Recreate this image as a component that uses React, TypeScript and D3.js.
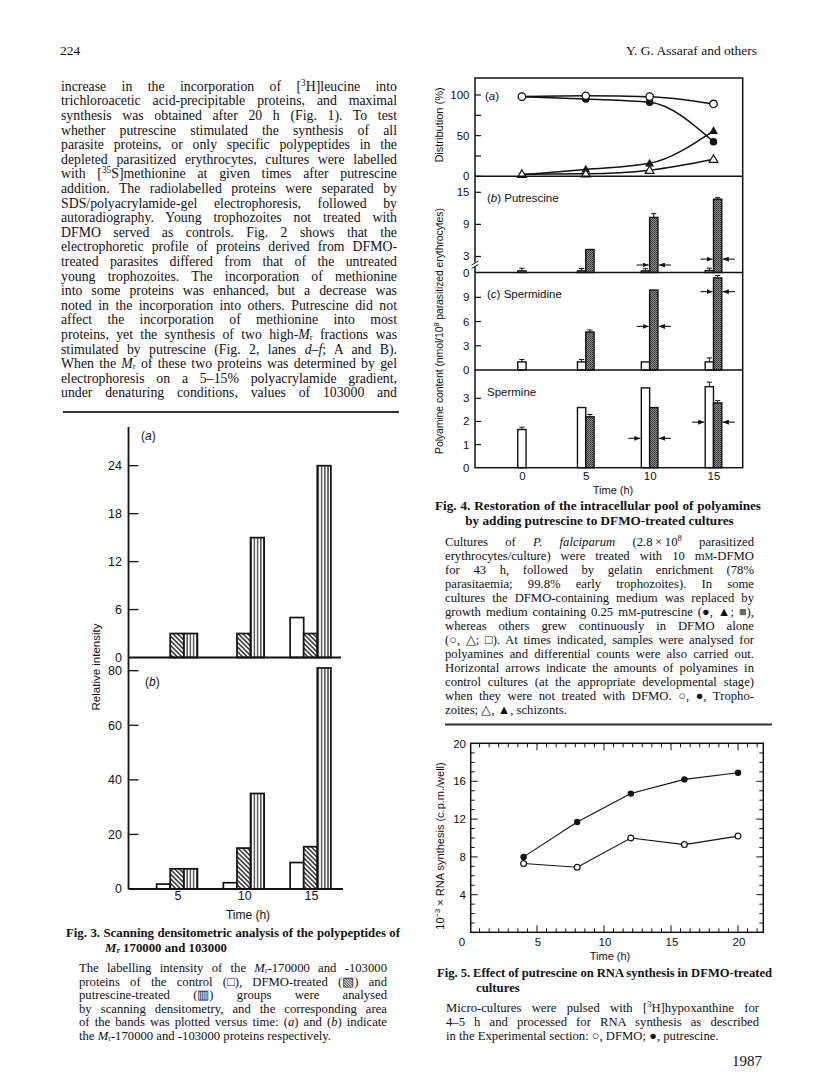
import React, { useEffect, useRef } from "react";
import * as d3 from "d3";

const SANS = "'Liberation Sans', Arial, sans-serif";
const SERIF = "'Liberation Serif', 'Times New Roman', serif";

// Fig. 3 – scanning densitometry, relative intensity
const fig3Times = [5, 10, 15];
const fig3aControl = [0, 0, 5];
const fig3aDfmo = [3, 3, 3];
const fig3aPutrescine = [3, 15, 24];
const fig3bControl = [1.8, 2.3, 9.7];
const fig3bDfmo = [7.4, 15, 15.5];
const fig3bPutrescine = [7.4, 35, 81];
const fig3aTicks = [0, 6, 12, 18, 24];
const fig3bTicks = [0, 20, 40, 60, 80];

// Fig. 4 (a) distribution %
const fig4Times = [0, 5, 10, 15];
const trophoDfmo = [98, 99, 98, 89];
const trophoPut = [98, 95, 91, 42.5];
const schizPut = [2, 8.5, 16, 56];
const schizDfmo = [2.5, 3, 7.5, 21];

// Fig. 4 (b)-(d) polyamine content
const putDfmo = [0.3, 0.3, 0.3, 0.35];
const putDfmoErr = [0.8, 0.75, 0.7, 0.8];
const putPut = [null, 4.3, 10.3, 13.7];
const putPutErr = [null, null, 11.0, 14.0];
const putCtrl = [null, null, 1.4, 2.5];

const spdDfmo = [1.0, 1.0, 1.0, 1.0];
const spdDfmoErr = [1.3, 1.3, null, 1.5];
const spdPut = [null, 4.7, 9.9, 11.4];
const spdPutErr = [null, 4.95, null, 11.7];
const spdCtrl = [null, null, 5.4, 9.7];

const spmDfmo = [1.65, 2.6, 3.45, 3.5];
const spmDfmoErr = [1.75, null, null, 3.7];
const spmPut = [null, 2.2, 2.6, 2.8];
const spmPutErr = [null, 2.3, null, 2.9];
const spmCtrl = [null, null, 1.27, 1.97];

// Fig. 5 RNA synthesis
const fig5Times = [4, 8, 12, 16, 20];
const rnaPutrescine = [8.0, 11.7, 14.7, 16.2, 16.9];
const rnaDfmo = [7.3, 6.9, 10.0, 9.3, 10.2];
const fig5YTicks = [4, 8, 12, 16, 20];
const fig5XTicks = [5, 10, 15, 20];

const Sup = ({ t }: { t: string }) => (
  <tspan baselineShift="super" fontSize="68%">{t}</tspan>
);
const Mr = () => (
  <>
    <tspan fontStyle="italic">M</tspan>
    <tspan baselineShift="-15%" fontSize="62%">r</tspan>
  </>
);
const I = ({ t }: { t: string }) => <tspan fontStyle="italic">{t}</tspan>;
const SC = ({ t }: { t: string }) => <tspan fontSize="75%">{t}</tspan>;

const bodyLines: React.ReactNode[] = [
  <>{"increase in the incorporation of ["}<Sup t="3" />{"H]leucine into"}</>,
  <>trichloroacetic acid-precipitable proteins, and maximal</>,
  <>synthesis was obtained after 20 h (Fig. 1). To test</>,
  <>whether putrescine stimulated the synthesis of all</>,
  <>parasite proteins, or only specific polypeptides in the</>,
  <>depleted parasitized erythrocytes, cultures were labelled</>,
  <>{"with ["}<Sup t="35" />{"S]methionine at given times after putrescine"}</>,
  <>addition. The radiolabelled proteins were separated by</>,
  <>SDS/polyacrylamide-gel electrophoresis, followed by</>,
  <>autoradiography. Young trophozoites not treated with</>,
  <>DFMO served as controls. Fig. 2 shows that the</>,
  <>electrophoretic profile of proteins derived from DFMO-</>,
  <>treated parasites differed from that of the untreated</>,
  <>young trophozoites. The incorporation of methionine</>,
  <>into some proteins was enhanced, but a decrease was</>,
  <>noted in the incorporation into others. Putrescine did not</>,
  <>affect the incorporation of methionine into most</>,
  <>{"proteins, yet the synthesis of two high-"}<Mr />{" fractions was"}</>,
  <>{"stimulated by putrescine (Fig. 2, lanes "}<I t="d–f" />{"; A and B)."}</>,
  <>{"When the "}<Mr />{" of these two proteins was determined by gel"}</>,
  <>electrophoresis on a 5–15% polyacrylamide gradient,</>,
  <>under denaturing conditions, values of 103000 and</>,
];

const fig3Caption: React.ReactNode[] = [
  <>{"The labelling intensity of the "}<Mr />{"-170000 and -103000"}</>,
  <>proteins of the control (□), DFMO-treated (▧) and</>,
  <>putrescine-treated (▥) groups were analysed</>,
  <>by scanning densitometry, and the corresponding area</>,
  <>{"of the bands was plotted versus time: ("}<I t="a" />{") and ("}<I t="b" />{") indicate"}</>,
  <>{"the "}<Mr />{"-170000 and -103000 proteins respectively."}</>,
];

const fig4Caption: React.ReactNode[] = [
  <>{"Cultures of "}<I t="P. falciparum" />{" (2.8\u202F×\u202F10"}<Sup t="8" />{" parasitized"}</>,
  <>{"erythrocytes/culture) were treated with 10 m"}<SC t="M" />{"-DFMO"}</>,
  <>for 43 h, followed by gelatin enrichment (78%</>,
  <>parasitaemia; 99.8% early trophozoites). In some</>,
  <>cultures the DFMO-containing medium was replaced by</>,
  <>{"growth medium containing 0.25 m"}<SC t="M" />{"-putrescine (●, ▲; "}<tspan fill="#666">■</tspan>{"),"}</>,
  <>whereas others grew continuously in DFMO alone</>,
  <>(○, △; □). At times indicated, samples were analysed for</>,
  <>polyamines and differential counts were also carried out.</>,
  <>Horizontal arrows indicate the amounts of polyamines in</>,
  <>control cultures (at the appropriate developmental stage)</>,
  <>when they were not treated with DFMO. ○, ●, Tropho-</>,
  <>zoites; △, ▲, schizonts.</>,
];

const fig5Caption: React.ReactNode[] = [
  <>{"Micro-cultures were pulsed with ["}<Sup t="3" />{"H]hypoxanthine for"}</>,
  <>4–5 h and processed for RNA synthesis as described</>,
  <>in the Experimental section: ○, DFMO; ●, putrescine.</>,
];

function Para({ lines, x, y0, step, w, size, lastFree = true }: any) {
  return (
    <g fontFamily={SERIF} fontSize={size} fill="#111">
      {lines.map((ln: React.ReactNode, i: number) => {
        const just = !(lastFree && i === lines.length - 1);
        return (
          <text key={i} x={x} y={y0 + i * step} data-w={just ? w : undefined}>{ln}</text>
        );
      })}
    </g>
  );
}

export default function App() {
  const ref = useRef<SVGSVGElement>(null);

  // justify lines by word spacing, like the printed page
  useEffect(() => {
    const justify = () => {
      const svg = ref.current;
      if (!svg) return;
      svg.querySelectorAll<SVGTextElement>("text[data-w]").forEach((el) => {
        el.style.wordSpacing = "0px";
        const w = +(el.getAttribute("data-w") || 0);
        const len = el.getComputedTextLength();
        const gaps = (el.textContent || "").trim().split(/ +/).length - 1;
        if (gaps > 0) el.style.wordSpacing = `${(w - len) / gaps}px`;
      });
    };
    justify();
    if ((document as any).fonts) (document as any).fonts.ready.then(justify);
  }, []);

  // ---------- Fig. 3 ----------
  const x3 = d3.scaleLinear().domain([5, 15]).range([177, 310.5]);
  const y3a = d3.scaleLinear().domain([0, 24]).range([657.5, 465.7]);
  const y3b = d3.scaleLinear().domain([0, 80]).range([889, 670.7]);
  const bw3 = 13.6;
  const fig3Fills = ["white", "url(#hatch)", "url(#vstripe)"];
  const fig3Panels = [
    { y: y3a, series: [fig3aControl, fig3aDfmo, fig3aPutrescine], ticks: fig3aTicks },
    { y: y3b, series: [fig3bControl, fig3bDfmo, fig3bPutrescine], ticks: fig3bTicks },
  ];
  const ax3 = 128.5;

  // ---------- Fig. 4 ----------
  const x4 = d3.scaleLinear().domain([0, 15]).range([521.9, 713.5]);
  const ya = d3.scaleLinear().domain([0, 100]).range([176.3, 95]);
  const yb = d3.scaleLinear().domain([0, 15]).range([272.5, 192.3]);
  const yc = d3.scaleLinear().domain([0, 9]).range([370, 297.3]);
  const yd = d3.scaleLinear().domain([0, 3]).range([467.7, 398.3]);
  const f4 = { l: 475, r: 742.7, t: 78, b: 467.7 };
  const bw4 = 8.3;
  const line4 = (ys: number[]) =>
    d3.line<number>().x((_, i) => x4(fig4Times[i])).y((v) => ya(v)).curve(d3.curveMonotoneX)(ys) || "";
  const tri = d3.symbol(d3.symbolTriangle, 34)() || "";
  const barPanels = [
    { y: yb, dfmo: putDfmo, dfmoErr: putDfmoErr, put: putPut, putErr: putPutErr, ctrl: putCtrl,
      ticks: [3, 9, 15], labels: [0, 3, 9, 15], title: "Putrescine", tag: "b", ty: 201.5 },
    { y: yc, dfmo: spdDfmo, dfmoErr: spdDfmoErr, put: spdPut, putErr: spdPutErr, ctrl: spdCtrl,
      ticks: [3, 6, 9], labels: [0, 3, 6, 9], title: "Spermidine", tag: "c", ty: 298 },
    { y: yd, dfmo: spmDfmo, dfmoErr: spmDfmoErr, put: spmPut, putErr: spmPutErr, ctrl: spmCtrl,
      ticks: [1, 2, 3], labels: [0, 1, 2, 3], title: "Spermine", tag: "", ty: 395.5 },
  ];

  // ---------- Fig. 5 ----------
  const x5 = d3.scaleLinear().domain([0, 20]).range([470, 738]);
  const y5 = d3.scaleLinear().domain([0, 20]).range([932.5, 743.5]);
  const f5 = { l: 470.7, r: 763.3, t: 743.3, b: 932.3 };
  const line5 = d3.line<number>().x((_, i) => x5(fig5Times[i])).y((v) => y5(v));
  const yMinor5 = d3.range(1, 20);
  const xMinor5 = d3.range(1, 31).map((k) => (k * 5) / 7).filter((v) => x5(v) < f5.r - 2);

  const errBar = (x: number, yTop: number, yErr: number, key: string) => (
    <g key={key} stroke="#111" strokeWidth={1}>
      <line x1={x} x2={x} y1={yTop} y2={yErr} />
      <line x1={x - 2.6} x2={x + 2.6} y1={yErr} y2={yErr} />
    </g>
  );

  return (
    <svg ref={ref} width={816} height={1092} style={{ position: "absolute", left: 0, top: 0, background: "#fff" }}>
      <defs>
        <pattern id="hatch" patternUnits="userSpaceOnUse" width={3.3} height={3.3} patternTransform="rotate(-45)">
          <rect width={3.3} height={3.3} fill="#fff" />
          <line x1={0.8} x2={0.8} y1={0} y2={3.3} stroke="#111" strokeWidth={1.3} />
        </pattern>
        <pattern id="vstripe" patternUnits="userSpaceOnUse" width={3.2} height={4}>
          <rect width={3.2} height={4} fill="#fff" />
          <line x1={1.6} x2={1.6} y1={0} y2={4} stroke="#111" strokeWidth={1.1} />
        </pattern>
        <pattern id="stipple" patternUnits="userSpaceOnUse" width={2} height={2}>
          <rect width={2} height={2} fill="#8a8a8a" />
          <rect width={1} height={1} fill="#333" />
          <rect x={1} y={1} width={1} height={1} fill="#4a4a4a" />
        </pattern>
        <marker id="arrowhead" markerUnits="userSpaceOnUse" markerWidth={6} markerHeight={5}
          refX={6} refY={2.5} orient="auto">
          <path d="M0,0 L6,2.5 L0,5 z" fill="#111" />
        </marker>
      </defs>

      {/* page header */}
      <text x={60} y={55} fontFamily={SERIF} fontSize={13.5} fill="#111">224</text>
      <text x={757} y={55} fontFamily={SERIF} fontSize={13.5} fill="#111" textAnchor="end">Y. G. Assaraf and others</text>

      <Para lines={bodyLines} x={61} y0={90.7} step={14.6} w={336} size={13.8} lastFree={false} />
      <line x1={63} x2={399} y1={412} y2={412} stroke="#333" strokeWidth={2} />

      {/* ================= Fig. 3 ================= */}
      <g fontFamily={SANS} fill="#111">
        {fig3Panels.map((p, pi) => (
          <g key={pi}>
            {p.series.map((vals, k) =>
              vals.map((v, i) =>
                v > 0 ? (
                  <rect key={`${k}-${i}`} x={x3(fig3Times[i]) + (k - 1.5) * bw3} y={p.y(v)}
                    width={bw3} height={p.y(0) - p.y(v)} fill={fig3Fills[k]} stroke="#111" strokeWidth={1.7} />
                ) : null
              )
            )}
            {p.ticks.map((t) => (
              <g key={t}>
                {t > 0 && <line x1={ax3} x2={ax3 + 10} y1={p.y(t)} y2={p.y(t)} stroke="#111" strokeWidth={1.3} />}
                <text x={122} y={p.y(t) + 4.3} fontSize={12.5} textAnchor="end">{t}</text>
              </g>
            ))}
            <line x1={ax3} x2={pi === 0 ? 341 : 343} y1={p.y(0)} y2={p.y(0)} stroke="#111" strokeWidth={1.8} />
          </g>
        ))}
        <line x1={ax3} x2={ax3} y1={427} y2={889} stroke="#111" strokeWidth={1.8} />
        <text x={141} y={440} fontSize={12}>(<tspan fontStyle="italic">a</tspan>)</text>
        <text x={145} y={686} fontSize={12}>(<tspan fontStyle="italic">b</tspan>)</text>
        {fig3Times.map((t) => (
          <text key={t} x={x3(t) + 1} y={899.5} fontSize={12.5} textAnchor="middle">{t}</text>
        ))}
        <text x={248} y={918.5} fontSize={12} textAnchor="middle">Time (h)</text>
        <text transform="translate(100,667) rotate(-90)" fontSize={11.5} textAnchor="middle">Relative intensity</text>
      </g>

      {/* Fig. 3 caption */}
      <text x={66} y={937} fontFamily={SERIF} fontSize={12.8} fontWeight="bold" data-w={334} fill="#111">
        Fig. 3. Scanning densitometric analysis of the polypeptides of
      </text>
      <text x={105} y={952} fontFamily={SERIF} fontSize={12.8} fontWeight="bold" fill="#111">
        <Mr />{" 170000 and 103000"}
      </text>
      <Para lines={fig3Caption} x={79} y0={972} step={13.6} w={308} size={12.7} />

      {/* ================= Fig. 4 ================= */}
      <g fontFamily={SANS} fill="#111">
        {/* panel (a) */}
        {[0, 25, 50, 75, 100].map((t) => (
          <line key={t} x1={f4.l} x2={f4.l + 6} y1={ya(t)} y2={ya(t)} stroke="#111" strokeWidth={1.2} />
        ))}
        {[0, 50, 100].map((t) => (
          <text key={t} x={469.5} y={ya(t) + 4} fontSize={11.5} textAnchor="end">{t}</text>
        ))}
        <text x={485} y={99.5} fontSize={11.5}>(<tspan fontStyle="italic">a</tspan>)</text>
        {[trophoDfmo, trophoPut, schizPut, schizDfmo].map((s, k) => (
          <path key={k} d={line4(s)} fill="none" stroke="#111" strokeWidth={1.5} />
        ))}
        {trophoPut.map((v, i) => (
          <circle key={`fc${i}`} cx={x4(fig4Times[i])} cy={ya(v)} r={3.8} fill="#111" />
        ))}
        {schizPut.map((v, i) => (
          <path key={`ft${i}`} d={tri} transform={`translate(${x4(fig4Times[i])},${ya(v) + 0.6})`} fill="#111" />
        ))}
        {trophoDfmo.map((v, i) => (
          <circle key={`oc${i}`} cx={x4(fig4Times[i])} cy={ya(v)} r={3.7} fill="#fff" stroke="#111" strokeWidth={1.3} />
        ))}
        {schizDfmo.map((v, i) => (
          <path key={`ot${i}`} d={tri} transform={`translate(${x4(fig4Times[i])},${ya(v) + 0.6})`}
            fill="#fff" stroke="#111" strokeWidth={1.2} />
        ))}

        {/* panels (b)-(d) */}
        {barPanels.map((p, pi) => (
          <g key={pi}>
            {fig4Times.map((t, i) => {
              const cx = x4(t);
              const hasPut = p.put[i] != null;
              const ox = hasPut ? cx - bw4 : cx - bw4 / 2;
              const dv = p.dfmo[i] as number;
              const out: React.ReactNode[] = [];
              if (p.dfmoErr[i] != null)
                out.push(errBar(ox + bw4 / 2, p.y(dv), p.y(p.dfmoErr[i] as number), `de${i}`));
              out.push(
                <rect key={`d${i}`} x={ox} y={p.y(dv)} width={bw4} height={p.y(0) - p.y(dv)}
                  fill="#fff" stroke="#111" strokeWidth={1.4} />
              );
              if (hasPut) {
                const pv = p.put[i] as number;
                if (p.putErr[i] != null)
                  out.push(errBar(cx + bw4 / 2, p.y(pv), p.y(p.putErr[i] as number), `pe${i}`));
                out.push(
                  <rect key={`p${i}`} x={cx} y={p.y(pv)} width={bw4} height={p.y(0) - p.y(pv)}
                    fill="url(#stipple)" stroke="#111" strokeWidth={1.4} />
                );
              }
              if (p.ctrl[i] != null) {
                const c = p.ctrl[i] as number;
                const lt = c > dv ? cx - 1 : cx - bw4 - 1;
                const rt = cx + bw4 + 1;
                out.push(
                  <g key={`c${i}`} stroke="#111" strokeWidth={1.1}>
                    <line x1={lt - 12} x2={lt} y1={p.y(c)} y2={p.y(c)} markerEnd="url(#arrowhead)" />
                    <line x1={rt + 12} x2={rt} y1={p.y(c)} y2={p.y(c)} markerEnd="url(#arrowhead)" />
                  </g>
                );
              }
              return <g key={i}>{out}</g>;
            })}
            {p.ticks.map((t) => (
              <line key={t} x1={f4.l} x2={f4.l + 6} y1={p.y(t)} y2={p.y(t)} stroke="#111" strokeWidth={1.2} />
            ))}
            {p.labels.map((t) => (
              <text key={t} x={469.5} y={p.y(t) + 4} fontSize={11.5} textAnchor="end">{t}</text>
            ))}
            <text x={487} y={p.ty} fontSize={11.5}>
              {p.tag ? <>(<tspan fontStyle="italic">{p.tag}</tspan>) </> : null}{p.title}
            </text>
          </g>
        ))}

        {/* frame & separators */}
        <rect x={f4.l} y={f4.t} width={f4.r - f4.l} height={f4.b - f4.t} fill="none" stroke="#111" strokeWidth={1.5} />
        {[ya(0), yb(0), yc(0)].map((y, i) => (
          <line key={i} x1={f4.l} x2={f4.r} y1={y} y2={y} stroke="#111" strokeWidth={1.5} />
        ))}
        {/* axis break in (b) */}
        <rect x={473} y={262.5} width={4} height={4.5} fill="#fff" />
        <line x1={471.5} x2={478.5} y1={265} y2={261} stroke="#111" strokeWidth={1} />
        <line x1={471.5} x2={478.5} y1={268.5} y2={264.5} stroke="#111" strokeWidth={1} />

        {fig4Times.map((t) => (
          <text key={t} x={x4(t) + 0.5} y={479.5} fontSize={11.5} textAnchor="middle">{t}</text>
        ))}
        <text x={613} y={493.5} fontSize={11} textAnchor="middle">Time (h)</text>
        <text transform="translate(443,125) rotate(-90)" fontSize={11} textAnchor="middle">Distribution (%)</text>
        <text transform="translate(443,331) rotate(-90)" fontSize={10.5} textAnchor="middle" textLength={246} lengthAdjust="spacing">
          {"Polyamine content (nmol/10"}<tspan baselineShift="super" fontSize="70%">8</tspan>{" parasitized erythrocytes)"}
        </text>
      </g>

      {/* Fig. 4 caption */}
      <text x={435} y={510} fontFamily={SERIF} fontSize={13.2} fontWeight="bold" data-w={326} fill="#111">
        Fig. 4. Restoration of the intracellular pool of polyamines
      </text>
      <text x={599.5} y={524.5} fontFamily={SERIF} fontSize={13.2} fontWeight="bold" textAnchor="middle" fill="#111">
        by adding putrescine to DFMO-treated cultures
      </text>
      <Para lines={fig4Caption} x={445} y0={546} step={14} w={309} size={12.7} />
      <line x1={445} x2={772} y1={724.5} y2={724.5} stroke="#333" strokeWidth={2} />

      {/* ================= Fig. 5 ================= */}
      <g fontFamily={SANS} fill="#111">
        <rect x={f5.l} y={f5.t} width={f5.r - f5.l} height={f5.b - f5.t} fill="none" stroke="#111" strokeWidth={1.5} />
        {yMinor5.map((v) => {
          const len = v % 4 === 0 ? 7 : 4;
          return (
            <g key={`y${v}`} stroke="#111" strokeWidth={1}>
              <line x1={f5.l} x2={f5.l + len} y1={y5(v)} y2={y5(v)} />
              <line x1={f5.r} x2={f5.r - len} y1={y5(v)} y2={y5(v)} />
            </g>
          );
        })}
        {xMinor5.map((v, k) => {
          const len = (k + 1) % 7 === 0 ? 7 : 4;
          return (
            <g key={`x${k}`} stroke="#111" strokeWidth={1}>
              <line x1={x5(v)} x2={x5(v)} y1={f5.t} y2={f5.t + len} />
              <line x1={x5(v)} x2={x5(v)} y1={f5.b} y2={f5.b - len} />
            </g>
          );
        })}
        <path d={line5(rnaPutrescine) || ""} fill="none" stroke="#111" strokeWidth={1.1} />
        <path d={line5(rnaDfmo) || ""} fill="none" stroke="#111" strokeWidth={1.1} />
        {rnaPutrescine.map((v, i) => (
          <circle key={`p${i}`} cx={x5(fig5Times[i])} cy={y5(v)} r={3.2} fill="#111" />
        ))}
        {rnaDfmo.map((v, i) => (
          <circle key={`d${i}`} cx={x5(fig5Times[i])} cy={y5(v)} r={2.9} fill="#fff" stroke="#111" strokeWidth={1.2} />
        ))}
        {fig5YTicks.map((t) => (
          <text key={t} x={466} y={y5(t) + 4} fontSize={11.5} textAnchor="end">{t}</text>
        ))}
        {fig5XTicks.map((t) => (
          <text key={t} x={x5(t) + 1} y={946} fontSize={11.5} textAnchor="middle">{t}</text>
        ))}
        <text x={462} y={946} fontSize={11.5} textAnchor="middle">0</text>
        <text x={610} y={959.5} fontSize={11} textAnchor="middle">Time (h)</text>
        <text transform="translate(444,846) rotate(-90)" fontSize={11} textAnchor="middle">
          {"10"}<tspan baselineShift="super" fontSize="70%">−3</tspan>{" × RNA synthesis (c.p.m./well)"}
        </text>
      </g>

      {/* Fig. 5 caption */}
      <text x={437} y={977} fontFamily={SERIF} fontSize={12.6} fontWeight="bold" data-w={335} fill="#111">
        Fig. 5. Effect of putrescine on RNA synthesis in DFMO-treated
      </text>
      <text x={476} y={991.5} fontFamily={SERIF} fontSize={12.8} fontWeight="bold" fill="#111">cultures</text>
      <Para lines={fig5Caption} x={446} y0={1012} step={14} w={313} size={12.7} />

      <text x={762} y={1066} fontFamily={SERIF} fontSize={15} textAnchor="end" fill="#111">1987</text>
    </svg>
  );
}
